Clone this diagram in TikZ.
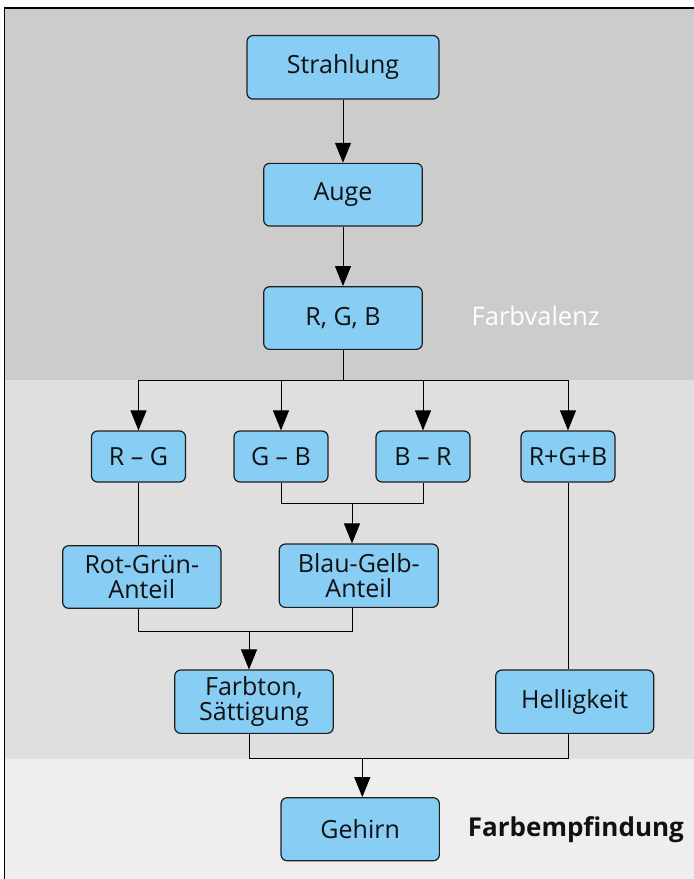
\documentclass[tikz,border=0pt]{standalone}
\usepackage{fontspec}
\setmainfont{Open Sans}
\usetikzlibrary{arrows.meta}
\definecolor{bandA}{HTML}{CCCCCC}
\definecolor{bandB}{HTML}{DFDFDF}
\definecolor{bandC}{HTML}{EEEEEE}
\definecolor{boxfill}{HTML}{88CDF4}
\definecolor{boxline}{HTML}{1E1E1E}
\definecolor{ink}{HTML}{111111}
\begin{document}
\begin{tikzpicture}[x=1pt,y=-1pt,
  box/.style={draw=boxline, fill=boxfill, line width=1.2pt, rounded corners=6pt, inner sep=0pt,
    align=center, font=\fontsize{25}{24.5}\selectfont, text=ink},
  conn/.style={line width=1pt, draw=black},
  arr/.style={conn, -{Triangle[length=20pt,width=16pt]}},
  lbl/.style={anchor=base west, inner sep=0pt}]
\useasboundingbox (0,0) rectangle (694,879);
\fill[white] (0,0) rectangle (694,879);
\fill[bandA] (4.5,8) rectangle (694,380);
\fill[bandB] (4.5,380) rectangle (694,759);
\fill[bandC] (4.5,759) rectangle (694,879);
\draw[line width=1.2pt] (4.5,879) -- (4.5,8) -- (694,8);

% nodes
\node[box, minimum width=192pt, minimum height=63.5pt] (str) at (343,67.3) {Strahlung};
\node[box, minimum width=158.6pt, minimum height=62.7pt] (auge) at (343,194.7) {Auge};
\node[box, minimum width=158.6pt, minimum height=62.7pt] (rgb) at (343,318) {R, G, B};

\node[box, minimum width=94pt, minimum height=51pt] (rg) at (138.5,456.5) {R – G};
\node[box, minimum width=94pt, minimum height=51pt] (gb) at (281,456.5) {G – B};
\node[box, minimum width=94pt, minimum height=51pt] (br) at (423,456.5) {B – R};
\node[box, minimum width=94pt, minimum height=51pt] (sum) at (568,456.5) {R+G+B};

\node[box, minimum width=158.3pt, minimum height=62.6pt] (rga) at (141.8,577) {Rot-Grün-\\Anteil};
\node[box, minimum width=159pt, minimum height=63.3pt] (bga) at (358.8,575.7) {Blau-Gelb-\\Anteil};

\node[box, minimum width=158.6pt, minimum height=63.3pt] (ft) at (254,701.7) {Farbton,\\Sättigung};
\node[box, minimum width=158pt, minimum height=63.3pt] (hel) at (574.7,701.7) {Helligkeit};

\node[box, minimum width=158.3pt, minimum height=63pt] (geh) at (360.2,829.2) {Gehirn};

\node[lbl, text=white, font=\fontsize{25.5}{30}\selectfont] (fv) at (471.5,325.7) {Farbvalenz};
\node[lbl, text=ink, font=\fontsize{26}{30}\selectfont\bfseries] (fe) at (467.7,836.7) {Farbempfindung};

% connectors
\draw[arr] (str) -- (auge);
\draw[arr] (auge) -- (rgb);

\coordinate (hb) at (343,380);
\draw[conn] (rgb.south) -- (hb);
\draw[conn] (hb -| rg) -- (hb -| sum);
\draw[arr] (hb -| rg) -- (rg.north);
\draw[arr] (hb -| gb) -- (gb.north);
\draw[arr] (hb -| br) -- (br.north);
\draw[arr] (hb -| sum) -- (sum.north);

\coordinate (j1) at (352,503.3);
\draw[conn] (gb.south) -- (gb.south |- j1) -- (br.south |- j1) -- (br.south);
\draw[arr] (j1) -- (j1 |- bga.north);

\draw[conn] (rg.south) -- (rg.south |- rga.north);

\coordinate (j2) at (249,631.7);
\draw[conn] (rga.south -| rg) -- (j2 -| rg) -- (j2 -| j1) -- (bga.south -| j1);
\draw[arr] (j2) -- (j2 |- ft.north);

\draw[conn] (sum.south) -- (sum.south |- hel.north);

\coordinate (j3) at (362.3,758.3);
\draw[conn] (ft.south -| j2) -- (j3 -| j2) -- (j3 -| sum) -- (hel.south -| sum);
\draw[arr] (j3) -- (j3 |- geh.north);
\end{tikzpicture}
\end{document}
